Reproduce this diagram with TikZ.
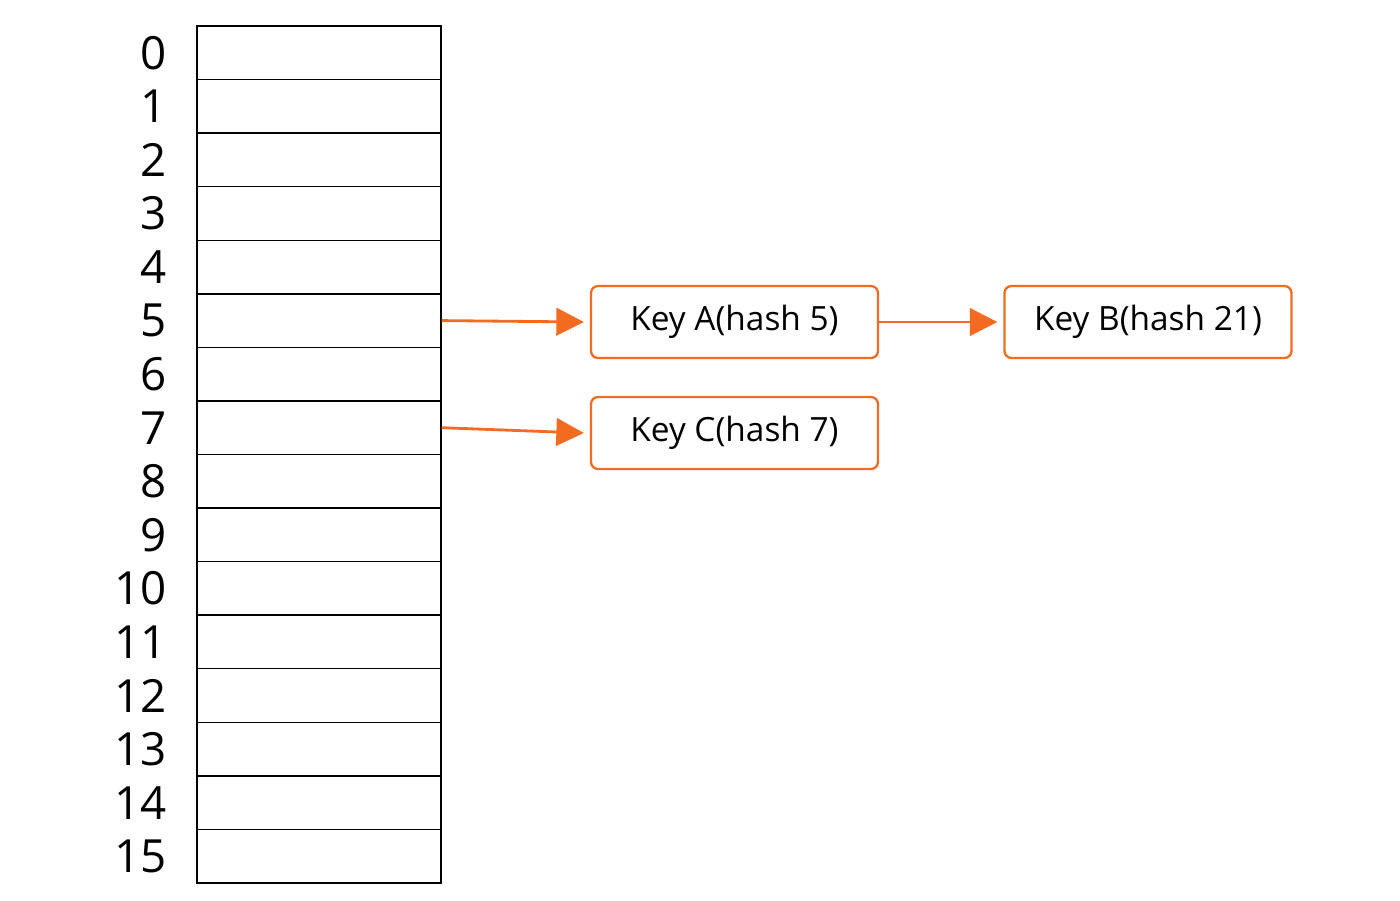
\documentclass[tikz,border=0pt]{standalone}
\usepackage{fontspec}
\setmainfont{Open Sans}
\usetikzlibrary{arrows.meta,positioning}
\definecolor{chain}{HTML}{F26B21}
\begin{document}
\begin{tikzpicture}
            \tikzstyle{slot}=[rectangle,draw,thick,minimum width=4.88cm,minimum height=1.0712cm,inner sep=0pt]
            \tikzstyle{idx}=[anchor=east,font=\fontsize{26}{30}\selectfont]
            \tikzstyle{key}=[rectangle,rounded corners=4pt,draw=chain,line width=1.3pt,minimum width=5.74cm,minimum height=1.44cm,font=\fontsize{19}{22}\selectfont]
            \tikzstyle{link}=[draw=chain,line width=1.6pt,-{Triangle[length=0.55cm,width=0.55cm]}]

            \useasboundingbox (0,0) rectangle (28,-18);

            % bucket array
            \foreach \i in {0,...,15} {
                \node[slot] (s\i) at (6.38, {-0.52-(\i+0.5)*1.0712}) {};
                \node[idx] (n\i) at (3.45, {-0.52-(\i+0.5)*1.0712}) {\i};
            }

            \node[key] (A) at (14.69,-6.44) {Key A(hash 5)};
            \node[key] (B) at (22.96,-6.44) {Key B(hash 21)};
            \node[key] (C) at (14.69,-8.66) {Key C(hash 7)};

            \draw[link] (s5.east) -- ([xshift=-0.12cm]A.west);
            \draw[link] (A.east) -- ([xshift=-0.12cm]B.west);
            \draw[link] (s7.east) -- ([xshift=-0.12cm]C.west);
\end{tikzpicture}
\end{document}
